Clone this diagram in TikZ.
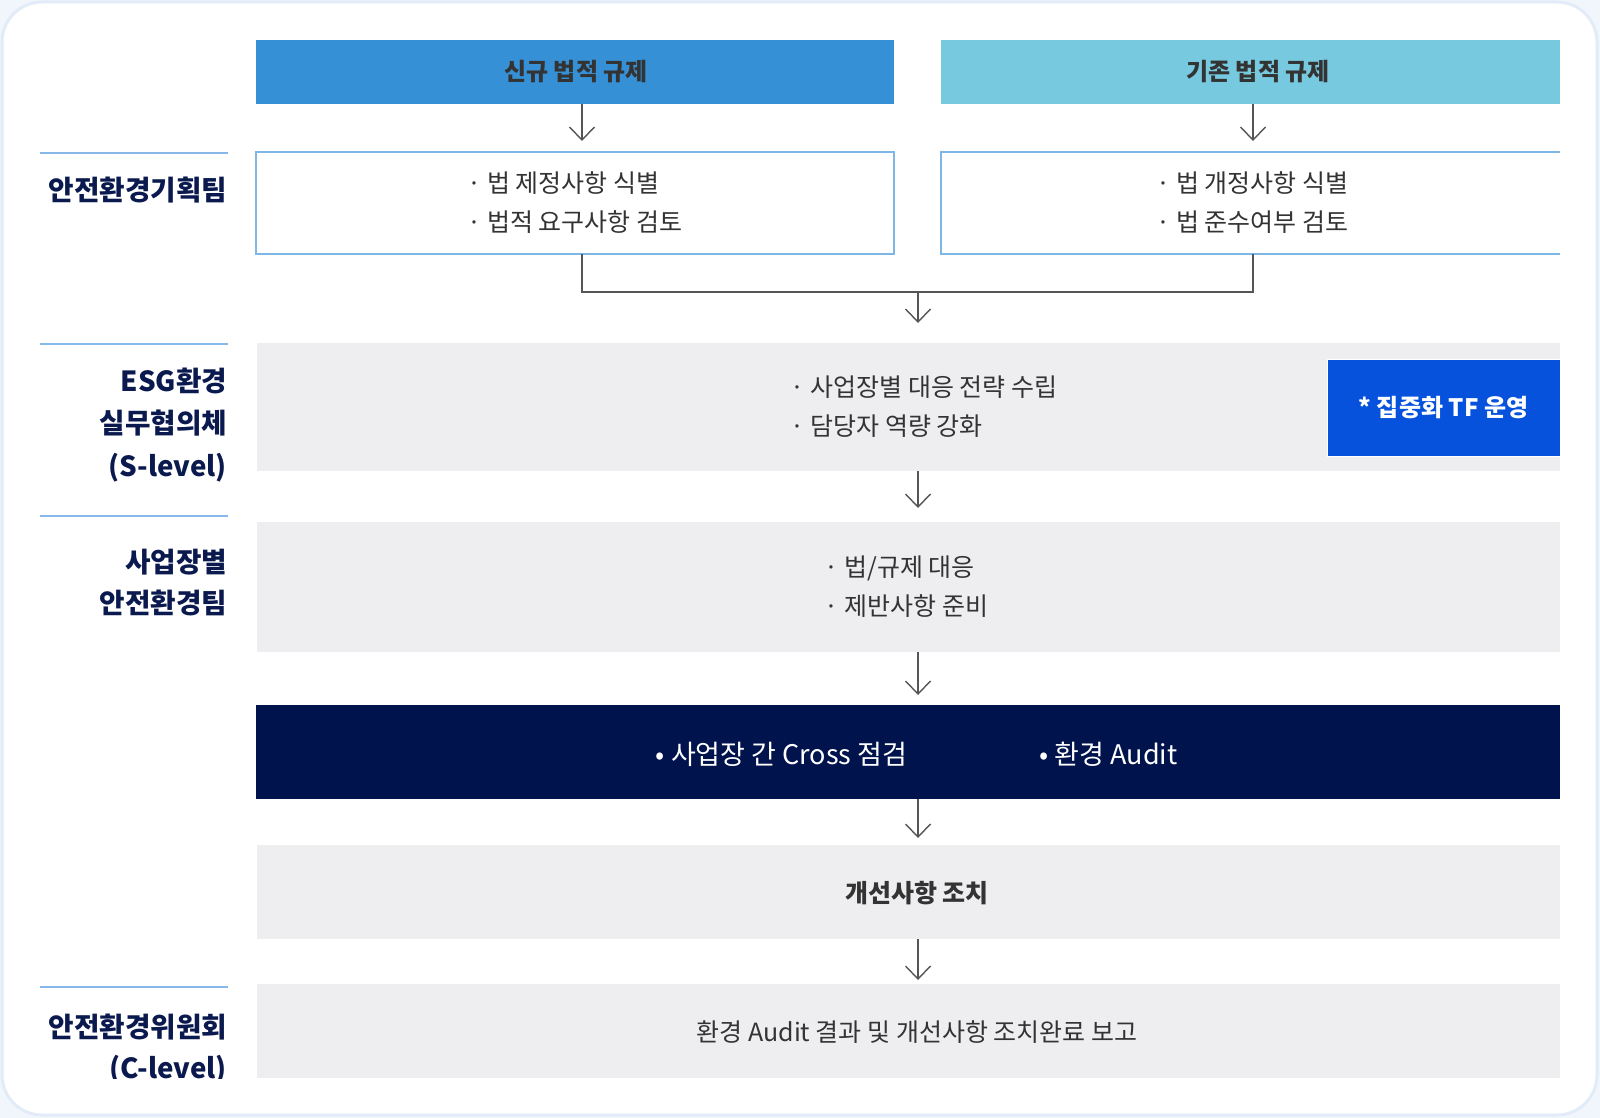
\documentclass[tikz,border=0pt]{standalone}
\usepackage{fontspec}
\setmainfont{Noto Sans CJK KR}
\usetikzlibrary{arrows.meta,calc}
\definecolor{bgout}{HTML}{F1F6FC}
\definecolor{framec}{HTML}{E2ECF8}
\definecolor{hdrA}{HTML}{3590D6}
\definecolor{hdrB}{HTML}{76C9DE}
\definecolor{boxline}{HTML}{7EB6E6}
\definecolor{graybox}{HTML}{EEEDF0}
\definecolor{tfblue}{HTML}{0652DD}
\definecolor{navy}{HTML}{00134D}
\definecolor{labnavy}{HTML}{0B1A4E}
\definecolor{sepline}{HTML}{86B9EA}
\definecolor{txt}{HTML}{333333}
\definecolor{arrc}{HTML}{555555}
\begin{document}
\begin{tikzpicture}[x=1pt,y=-1pt,
  every node/.style={inner sep=0pt,outer sep=0pt},
  hdr/.style={rectangle,minimum height=64pt,text=txt,font=\fontsize{24}{28}\selectfont\bfseries},
  wbox/.style={rectangle,fill=white,minimum height=102pt},
  gbox/.style={rectangle,fill=graybox,minimum width=1303pt},
  body/.style={align=left,text=txt,font=\fontsize{25}{39}\selectfont},
  lab/.style={anchor=east,align=right,text=labnavy,font=\fontsize{27.7}{42.5}\selectfont\bfseries},
  sep/.style={draw=sepline,line width=2.5pt},
  arr/.style={draw=arrc,line width=1.4pt,-{Straight Barb[length=13pt,width=25pt,line width=1.4pt]}},
  con/.style={draw=arrc,line width=1.4pt}
]
\useasboundingbox (0,0) rectangle (1600,1118);
\fill[bgout] (0,0) rectangle (1600,1118);
\draw[framec,line width=3pt,fill=white,rounded corners=40pt] (2,2) rectangle (1597,1115);

% headers
\node[hdr,fill=hdrA,minimum width=638pt] (h1) at (575,72) {};
\node[hdr] (h1t) at (576,72) {신규 법적 규제};
\node[hdr,fill=hdrB,minimum width=619pt] (h2) at (1250.5,72) {};
\node[hdr] (h2t) at (1258,72) {기존 법적 규제};

% row 2 boxes
\node[wbox,minimum width=638pt,draw=boxline,line width=1.5pt] (b1) at (575,203) {};
\node[body] at (b1) {· 법 제정사항 식별\\· 법적 요구사항 검토};
\node[wbox,minimum width=619pt] (b2) at (1250.5,203) {};
\draw[boxline,line width=1.5pt] (b2.north east) -- (b2.north west) -- (b2.south west) -- (b2.south east);
\node[body] at ([xshift=2pt]b2.center) {· 법 개정사항 식별\\· 법 준수여부 검토};

% ESG box
\node[gbox,minimum height=128pt] (esg) at (908.5,407) {};
\node[body] (esgt) at (924,407) {· 사업장별 대응 전략 수립\\· 담당자 역량 강화};
\node[rectangle,fill=tfblue,draw=white,line width=1pt,minimum width=233pt,minimum height=97pt,
      text=white,font=\fontsize{24}{28}\selectfont\bfseries] (tf) at (1443.5,407.5) {* 집중화 TF 운영};

% site box
\node[gbox,minimum height=130pt] (site) at (908.5,587) {};
\node[body] (sitet) at (906.5,587) {· 법/규제 대응\\· 제반사항 준비};

% dark box
\node[rectangle,fill=navy,minimum width=1304pt,minimum height=94pt] (dark) at (908,752) {};
\node[text=white,font=\fontsize{27}{32}\selectfont] (d1) at (781.5,754) {• 사업장 간 Cross 점검};
\node[text=white,font=\fontsize{27}{32}\selectfont] (d2) at (1108.5,754) {• 환경 Audit};

% improve box
\node[gbox,minimum height=94pt] (imp) at (908.5,892) {};
\node[text=txt,font=\fontsize{25}{30}\selectfont\bfseries] (impt) at (917,893) {개선사항 조치};

% report box
\node[gbox,minimum height=94pt] (rep) at (908.5,1031) {};
\node[text=txt,font=\fontsize{25}{30}\selectfont] (rept) at (917,1032) {환경 Audit 결과 및 개선사항 조치완료 보고};

% arrows
\coordinate (c1) at (582,0);
\coordinate (c2) at (1253,0);
\coordinate (cx) at (918,0);
\coordinate (j) at (918,292);
\draw[arr] (c1 |- h1.south) -- ([yshift=11pt]c1 |- b1.north);
\draw[arr] (c2 |- h2.south) -- ([yshift=11pt]c2 |- b2.north);
\draw[con] (c1 |- b1.south) |- (j) -| (c2 |- b2.south);
\draw[arr] (j) -- ([yshift=20pt]cx |- esg.north);
\draw[arr] (cx |- esg.south) -- ([yshift=14pt]cx |- site.north);
\draw[arr] (cx |- site.south) -- ([yshift=10pt]cx |- dark.north);
\draw[arr] (cx |- dark.south) -- ([yshift=7pt]cx |- imp.north);
\draw[arr] (cx |- imp.south) -- ([yshift=4pt]cx |- rep.north);

% left labels
\draw[sep] (40,153) coordinate (s1a) -- (228,153) coordinate (s1b);
\draw[sep] (40,344) coordinate (s2a) -- (228,344) coordinate (s2b);
\draw[sep] (40,516) coordinate (s3a) -- (228,516) coordinate (s3b);
\draw[sep] (40,987) coordinate (s4a) -- (228,987) coordinate (s4b);
\node[lab] (l1) at (227,190) {안전환경기획팀};
\node[lab] (l2) at (227,425) {ESG환경\\실무협의체\\(S-level)};
\node[lab,font=\fontsize{27.7}{41.5}\selectfont\bfseries] (l3) at (227,582.5) {사업장별\\안전환경팀};
\begin{scope}
\clip (0,0) rectangle (1600,1078);
\node[lab,font=\fontsize{27.7}{41}\selectfont\bfseries] (l4) at (227,1049) {안전환경위원회\\(C-level)};
\end{scope}
\end{tikzpicture}
\end{document}
